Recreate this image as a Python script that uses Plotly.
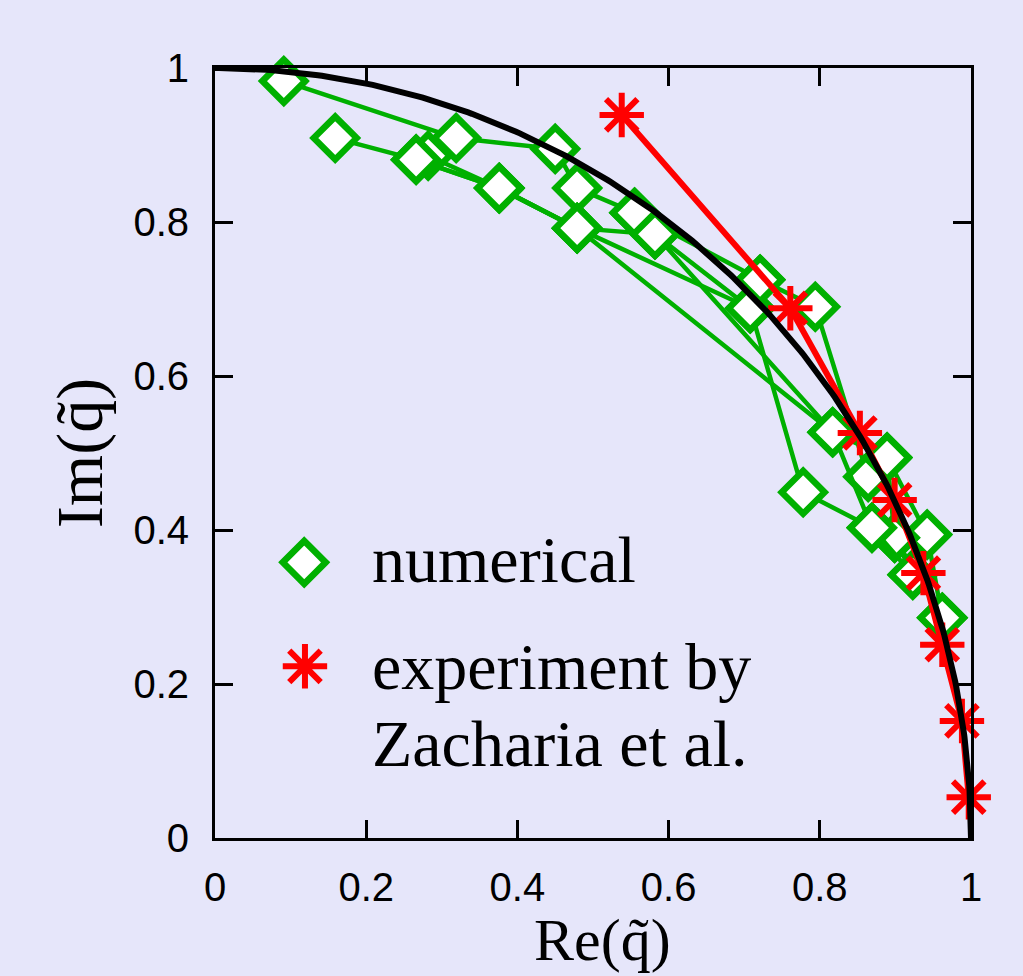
import numpy as np
import plotly.graph_objects as go

# ---- data ----
# numerical runs (Re, Im)
run1_x = [0.091, 0.319, 0.450, 0.479, 0.555, 0.721, 0.794, 0.864, 0.889, 0.942, 0.962]
run1_y = [0.983, 0.909, 0.895, 0.844, 0.812, 0.725, 0.690, 0.469, 0.494, 0.394, 0.286]
run2_x = [0.159, 0.266, 0.376, 0.479, 0.582, 0.817, 0.889, 0.899, 0.923]
run2_y = [0.909, 0.881, 0.844, 0.792, 0.784, 0.527, 0.494, 0.390, 0.342]
run3_x = [0.282, 0.376, 0.479, 0.708, 0.778, 0.869, 0.899, 0.962]
run3_y = [0.886, 0.844, 0.792, 0.688, 0.449, 0.403, 0.390, 0.286]
run4_x = [0.266, 0.376, 0.479, 0.817, 0.869, 0.923]
run4_y = [0.881, 0.844, 0.792, 0.527, 0.403, 0.342]
run5_x = [0.555, 0.582, 0.708, 0.721]
run5_y = [0.812, 0.784, 0.688, 0.725]

# experiment by Zacharia et al.
exp_x = [0.538, 0.761, 0.853, 0.899, 0.937, 0.962, 0.988, 0.997]
exp_y = [0.939, 0.688, 0.526, 0.439, 0.344, 0.251, 0.152, 0.053]

x_ticks = [0, 0.2, 0.4, 0.6, 0.8, 1]
y_ticks = [0, 0.2, 0.4, 0.6, 0.8, 1]

legend_labels = ["numerical", "experiment by", "Zacharia et al."]

# ---- styles ----
GREEN = "#00b000"
RED = "#ff0000"
BG = "#e6e6fa"

fig = go.Figure()

runs = [(run1_x, run1_y), (run2_x, run2_y), (run3_x, run3_y), (run4_x, run4_y), (run5_x, run5_y)]
for rx, ry in runs:
    fig.add_trace(go.Scatter(
        x=rx, y=ry, mode="lines+markers", showlegend=False, cliponaxis=False,
        line=dict(color=GREEN, width=4.5),
        marker=dict(symbol="diamond", size=33, color="white",
                    line=dict(color=GREEN, width=6.5)),
    ))

fig.add_trace(go.Scatter(
    x=exp_x, y=exp_y, mode="lines+markers", showlegend=False, cliponaxis=False,
    line=dict(color=RED, width=6),
    marker=dict(symbol="asterisk-open", size=37, color=RED,
                line=dict(color=RED, width=6)),
))

# theory: unit circle |q| = 1
theta = np.linspace(0, np.pi / 2, 300)
fig.add_trace(go.Scatter(
    x=np.cos(theta), y=np.sin(theta), mode="lines", showlegend=False,
    cliponaxis=False, line=dict(color="black", width=6),
))

# ---- hand-drawn legend (large keys as in the original) ----
fig.add_trace(go.Scatter(
    x=[0.118], y=[0.358], mode="markers", showlegend=False, cliponaxis=False,
    marker=dict(symbol="diamond", size=33, color="white",
                line=dict(color=GREEN, width=6.5)),
))
fig.add_trace(go.Scatter(
    x=[0.119], y=[0.223], mode="markers", showlegend=False, cliponaxis=False,
    marker=dict(symbol="asterisk-open", size=37, color=RED,
                line=dict(color=RED, width=6)),
))

SERIF = "Liberation Serif, Times New Roman, serif"
leg_y = [0.362, 0.223, 0.123]
for lab, yy in zip(legend_labels, leg_y):
    fig.add_annotation(
        x=0.205, y=yy, xref="x", yref="y", text=lab, showarrow=False,
        xanchor="left", yanchor="middle",
        font=dict(family=SERIF, size=66, color="black"),
    )

# x-axis title as annotation for exact placement
fig.add_annotation(
    x=0.512, y=-0.1325, xref="paper", yref="paper", text="Re(q\u0303)",
    showarrow=False, xanchor="center", yanchor="middle",
    font=dict(family=SERIF, size=60, color="black"),
)

axis_common = dict(
    range=[0, 1], showgrid=False, zeroline=False,
    showline=True, linecolor="black", linewidth=3, mirror="ticks",
    ticks="inside", ticklen=18, tickwidth=2.5, tickcolor="black",
    tickfont=dict(family="Liberation Sans, Arial, sans-serif", size=40, color="black"),
)

fig.update_layout(
    width=1023, height=976,
    margin=dict(l=215, r=52, t=68, b=138),
    paper_bgcolor=BG, plot_bgcolor=BG,
    showlegend=False,
    xaxis=dict(**axis_common, tickvals=x_ticks, ticklabelstandoff=12),
    yaxis=dict(**axis_common, tickvals=y_ticks, ticklabelstandoff=15,
               title=dict(text="Im(q\u0303)", standoff=10,
                          font=dict(family=SERIF, size=66, color="black"))),
)

fig.write_html("out.html")
